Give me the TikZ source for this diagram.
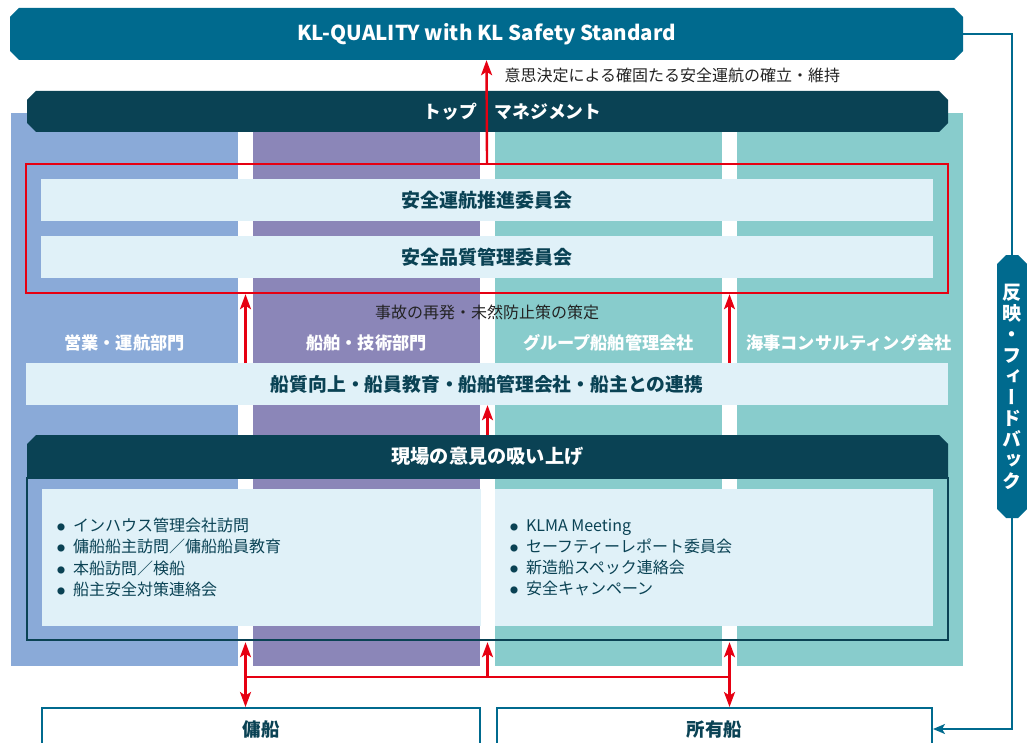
\documentclass[tikz,border=0pt]{standalone}
\usepackage{fontspec}
\setmainfont{Noto Sans CJK JP}
\newfontfamily\vertfont{Noto Sans CJK JP}[RawFeature=+vert]
\usetikzlibrary{arrows.meta,positioning,calc,shapes.misc}
\definecolor{klblue}{RGB}{0,106,142}
\definecolor{kldark}{RGB}{10,66,84}
\definecolor{colsales}{RGB}{138,170,216}
\definecolor{colship}{RGB}{139,134,184}
\definecolor{colgroup}{RGB}{136,204,204}
\definecolor{klpale}{RGB}{224,241,248}
\definecolor{klred}{RGB}{230,0,18}
\definecolor{kltext}{RGB}{35,35,35}
\newcommand{\fs}[1]{\fontsize{#1}{#1}\selectfont}
\newcommand{\bul}{\makebox[16pt][l]{\raisebox{1pt}{\fs{8}●}}}

\tikzset{
  chbox/.style={chamfered rectangle, chamfered rectangle xsep=4.5pt,
    chamfered rectangle ysep=4.5pt, inner sep=0pt, text=white},
  combox/.style={fill=klpale, minimum width=892pt, minimum height=42pt,
    inner sep=0pt, text=kldark, font=\bfseries\fs{19}},
  collbl/.style={text=white, font=\bfseries\fs{17.2}},
  lbl/.style={text=kltext, font=\fs{16}},
  fieldbox/.style={fill=klpale, minimum height=137pt, inner sep=0pt},
  bullets/.style={anchor=west, align=left, text=kldark, inner sep=0pt,
    font=\fontsize{16}{21.3}\selectfont},
  shipbox/.style={draw=klblue, line width=2pt, fill=white, minimum height=42pt,
    inner sep=0pt, text=kldark, font=\bfseries\fs{18.5}},
  redtip/.tip={Stealth[length=15pt,width=11pt,inset=3.5pt]},
  redarrow/.style={draw=klred, line width=2.4pt, -redtip},
  redline/.style={draw=klred, line width=2.4pt},
  fbline/.style={draw=klblue, line width=1.6pt}
}

\begin{document}
\begin{tikzpicture}[x=1pt,y=-1pt]
  \useasboundingbox (0,0) rectangle (1027,743);

  % Department columns
  \fill[colsales] (11,113) rectangle (238,666);
  \fill[colship] (253,113) rectangle (480,666);
  \fill[colgroup] (495,113) rectangle (722,666);
  \fill[colgroup] (737,113) rectangle (963,666);
  \coordinate (g1) at (245.5,0);
  \coordinate (g2) at (487.5,0);
  \coordinate (g3) at (729.5,0);

  % Standard and top management
  \node[chbox, fill=klblue, minimum width=953pt, minimum height=52pt,
    font=\bfseries\fs{20.5}] (kl) at (486.5,34) {KL-QUALITY with KL Safety Standard};
  \node[chbox, fill=kldark, minimum width=921pt, minimum height=41pt,
    font=\bfseries\fs{17.8}] (mgmt) at (487.5,111.5) {\hspace*{50pt}トップ　マネジメント};
  \node[lbl, anchor=west] (decision) at (501,75) {意思決定による確固たる安全運航の確立・維持};

  % Committees
  \node[draw=klred, line width=2.4pt, minimum width=922pt, minimum height=129pt,
    inner sep=0pt] (redframe) at (487,228.5) {};
  \node[combox] (com1) at (487,200) {安全運航推進委員会};
  \node[combox] (com2) at (487,257) {安全品質管理委員会};
  \node[lbl] (policy) at (487,312) {事故の再発・未然防止策の策定};

  % Column labels
  \node[collbl] (dep1) at (124.5,343) {営業・運航部門};
  \node[collbl] (dep2) at (366.5,343) {船舶・技術部門};
  \node[collbl] (dep3) at (608.5,343) {グループ船舶管理会社};
  \node[collbl] (dep4) at (849,343) {海事コンサルティング会社};

  % Cooperation bar
  \node[combox, minimum width=922pt, font=\bfseries\fs{18.8}] (coop) at (487,384)
    {船質向上・船員教育・船舶管理会社・船主との連携};

  % Field voices
  \node[chbox, chamfered rectangle corners={north west,north east}, fill=kldark,
    minimum width=921pt, minimum height=42pt, font=\bfseries\fs{19.2}] (genba)
    at (487.5,456) {現場の意見の吸い上げ};
  \node[draw=kldark, line width=2pt, minimum width=921pt, minimum height=162pt,
    inner sep=0pt, anchor=north] (genbaframe) at (genba.south) {};
  \node[fieldbox, minimum width=439pt] (fieldL) at (261.5,557.5) {};
  \node[fieldbox, minimum width=438pt] (fieldR) at (714,557.5) {};
  \node[bullets] (listL) at ([xshift=15pt]fieldL.west)
    {\bul インハウス管理会社訪問\\\bul 傭船船主訪問／傭船船員教育\\\bul 本船訪問／検船\\\bul 船主安全対策連絡会};
  \node[bullets] (listR) at ([xshift=15pt]fieldR.west)
    {\bul KLMA Meeting\\\bul セーフティーレポート委員会\\\bul 新造船スペック連絡会\\\bul 安全キャンペーン};

  % Ships
  \node[shipbox, minimum width=438pt] (charter) at (261,729) {傭船};
  \node[shipbox, minimum width=435pt] (owned) at (714.5,729) {所有船};

  % Feedback
  \node[chbox, fill=klblue, minimum width=30pt, minimum height=263pt, align=center,
    font=\vertfont\bfseries\fontsize{19}{21}\selectfont] (fb) at (1012,386.5)
    {反\\映\\・\\フ\\ィ\\ー\\ド\\バ\\ッ\\ク};
  \draw[fbline] (kl.east) -| (fb.north);
  \draw[fbline, -{Stealth[length=12pt,width=10pt,inset=3pt]}] (fb.south) |- (owned.east);

  % Red arrows
  \draw[redarrow] (redframe.north) -- (kl.south);
  \draw[redarrow] (coop.north -| g1) -- (redframe.south -| g1);
  \draw[redarrow] (coop.north -| g3) -- (redframe.south -| g3);
  \draw[redarrow] (genba.north -| g2) -- (coop.south -| g2);
  \coordinate (j1) at (245.5,677);
  \coordinate (j2) at (487.5,677);
  \coordinate (j3) at (729.5,677);
  \draw[redline] (j1) -- (j3);
  \draw[redarrow, redtip-redtip, shorten <=1pt] (genbaframe.south -| j1) -- (charter.north -| j1);
  \draw[redarrow, redtip-redtip, shorten <=1pt] (genbaframe.south -| j3) -- (owned.north -| j3);
  \draw[redarrow, shorten >=1pt] (j2) -- (genbaframe.south -| j2);
\end{tikzpicture}
\end{document}
